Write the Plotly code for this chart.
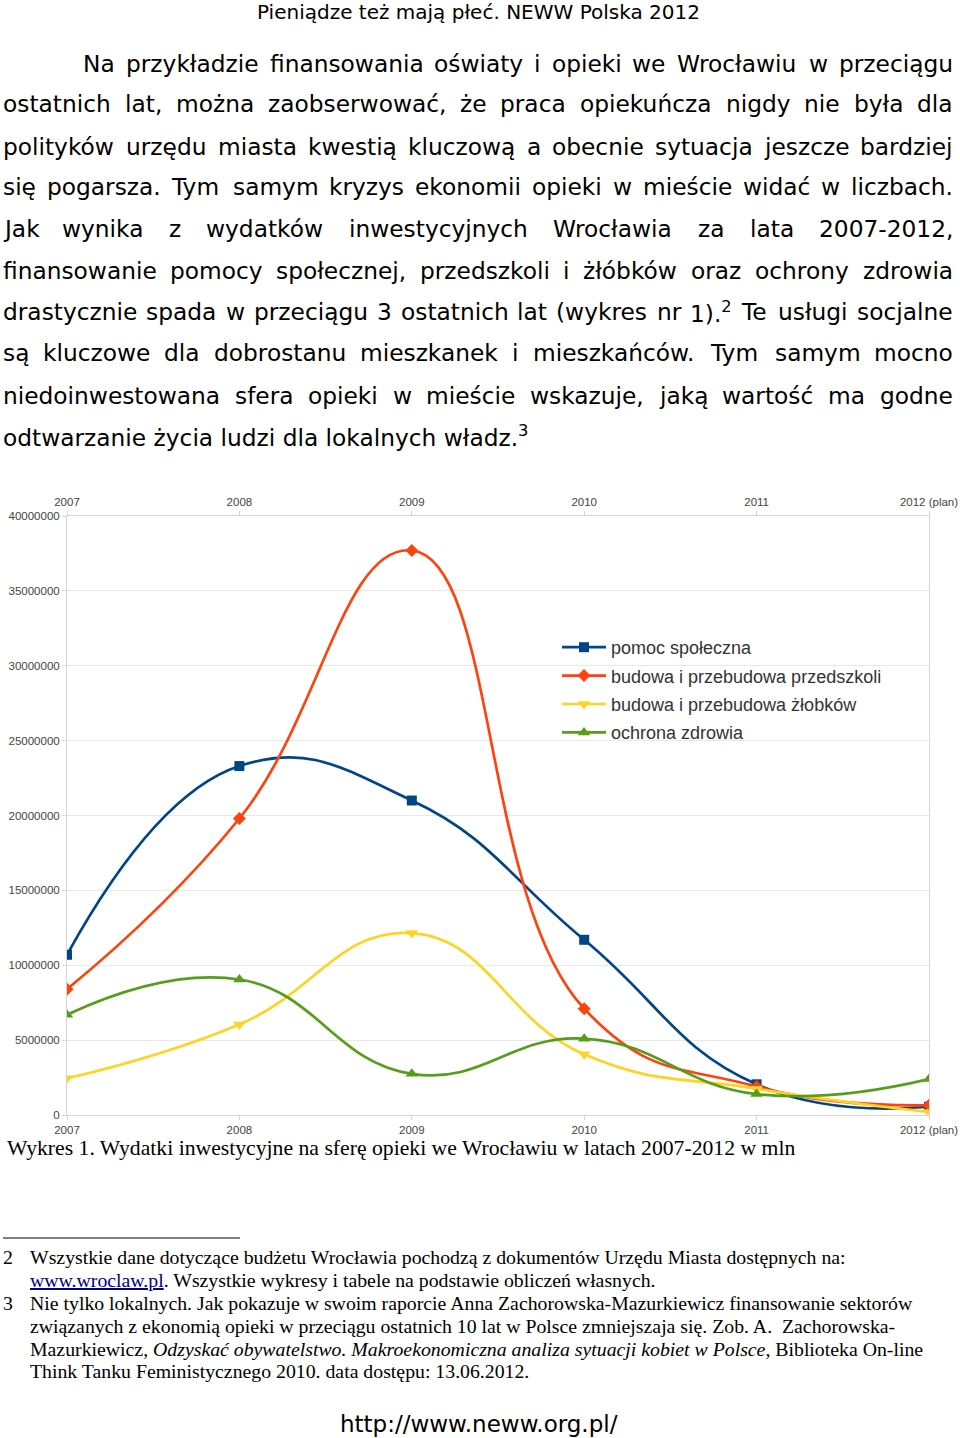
import plotly.graph_objects as go

# ---------------- data ----------------
years = ["2007", "2008", "2009", "2010", "2011", "2012 (plan)"]
pomoc_spoleczna = [10700000, 23300000, 21000000, 11700000, 2050000, 550000]
przedszkola = [8400000, 19800000, 37700000, 7100000, 1900000, 650000]
zlobki = [2450000, 6050000, 12150000, 4050000, 1750000, 200000]
ochrona_zdrowia = [6700000, 9050000, 2750000, 5100000, 1400000, 2400000]
series_names = ["pomoc społeczna", "budowa i przebudowa przedszkoli",
                "budowa i przebudowa żłobków", "ochrona zdrowia"]
y_ticks = [0, 5000000, 10000000, 15000000, 20000000, 25000000,
           30000000, 35000000, 40000000]

paragraph_lines = [
    "Na przykładzie finansowania oświaty i opieki we Wrocławiu w przeciągu",
    "ostatnich lat, można zaobserwować, że praca opiekuńcza nigdy nie była dla",
    "polityków urzędu miasta kwestią kluczową a obecnie sytuacja jeszcze bardziej",
    "się pogarsza. Tym samym kryzys ekonomii opieki w mieście widać w liczbach.",
    "Jak wynika z wydatków inwestycyjnych Wrocławia za lata 2007-2012,",
    "finansowanie pomocy społecznej, przedszkoli i żłóbków oraz ochrony zdrowia",
    "drastycznie spada w przeciągu 3 ostatnich lat (wykres nr 1).<sup>2</sup> Te usługi socjalne",
    "są kluczowe dla dobrostanu mieszkanek i mieszkańców. Tym samym mocno",
    "niedoinwestowana sfera opieki w mieście wskazuje, jaką wartość ma godne",
]
paragraph_last = "odtwarzanie życia ludzi dla lokalnych władz.<sup>3</sup>"

W, H = 960, 1438
def px(x):
    return x / W
def py(y):
    return 1 - y / H

colors = ["#004586", "#ff420e", "#ffd320", "#579d1c"]
symbols = ["square", "diamond", "triangle-down", "triangle-up"]
msizes = [10, 10, 11, 11]
values = [pomoc_spoleczna, przedszkola, zlobki, ochrona_zdrowia]

fig = go.Figure()
for name, vals, col, sym, ms in zip(series_names, values, colors, symbols, msizes):
    fig.add_trace(go.Scatter(
        x=years, y=vals, name=name, mode="lines+markers",
        legendgroup=name,
        line=dict(color=col, width=2.7, shape="spline", smoothing=1.3),
        marker=dict(symbol=sym, size=ms, color=col),
    ))
# helper trace so the top category axis gets its categories
fig.add_trace(go.Scatter(x=years, y=pomoc_spoleczna, xaxis="x2", mode="lines",
                         line=dict(width=0), opacity=0, showlegend=False,
                         hoverinfo="skip"))

tickfont = dict(family="Liberation Sans", size=11.5, color="#444")
axcol = "#d6d6d6"
xa = dict(type="category", range=[0, 5], showgrid=False, showline=True,
          linecolor=axcol, linewidth=1, ticks="outside", ticklen=4,
          tickcolor=axcol, tickfont=tickfont, zeroline=False, automargin=False)
fig.update_layout(
    width=W, height=H,
    margin=dict(l=0, r=0, t=0, b=0, pad=0, autoexpand=False),
    paper_bgcolor="white", plot_bgcolor="white",
    xaxis=dict(domain=[px(67), px(929)], **xa),
    xaxis2=dict(overlaying="x", side="top", anchor="y", **xa),
    yaxis=dict(domain=[py(1115), py(516)], range=[0, 40000000],
               tickvals=y_ticks, tickformat="d", showgrid=True,
               gridcolor="#e8e8e8", gridwidth=1, showline=True,
               linecolor=axcol, mirror=True, ticks="outside", ticklen=4,
               tickcolor=axcol, tickfont=tickfont, zeroline=False,
               automargin=False),
    legend=dict(x=px(557), y=py(629), xanchor="left", yanchor="top",
                font=dict(family="Liberation Sans", size=18, color="#333"),
                bgcolor="rgba(0,0,0,0)", tracegroupgap=2, itemwidth=44),
    showlegend=True,
)

ann = []
def add_text(text, x, y, size, family="DejaVu Sans", anchor="left", color="black"):
    ann.append(dict(text=text, x=px(x), y=py(y), xref="paper", yref="paper",
                    xanchor=anchor, yanchor="middle", showarrow=False,
                    borderpad=0, borderwidth=0,
                    font=dict(family=family, size=size, color=color)))

# approximate DejaVu Sans advance widths (em) for justification
DV = {" ": .318, "a": .613, "b": .635, "c": .550, "d": .635, "e": .615, "f": .352,
      "g": .635, "h": .634, "i": .278, "j": .278, "k": .579, "l": .278, "m": .974,
      "n": .634, "o": .612, "p": .635, "q": .635, "r": .411, "s": .521, "t": .392,
      "u": .634, "v": .592, "w": .818, "x": .592, "y": .592, "z": .525,
      "ą": .613, "ę": .615, "ł": .30, "ń": .634, "ó": .612, "ś": .521, "ć": .550,
      "ż": .525, "ź": .525, "J": .295, "N": .748, "T": .611, "W": .989, "P": .603,
      "E": .632, ".": .318, ",": .318, "(": .390, ")": .390, "-": .361, ":": .337,
      "/": .337}
for d in "0123456789":
    DV[d] = .636

def word_width(word, size):
    sup = 0.0
    if "<sup>" in word:
        base, rest = word.split("<sup>")
        supt = rest.replace("</sup>", "")
        sup = 0.7 * sum(DV.get(c, .6) for c in supt)
        word = base
    return (sum(DV.get(c, .6) for c in word) + sup) * size

BODY = 23.3
line_y = [63, 104, 146, 187, 229, 270, 312, 353, 395]
for i, (line, y) in enumerate(zip(paragraph_lines, line_y)):
    left = 83 if i == 0 else 3
    right = 953
    words = line.split(" ")
    widths = [word_width(w, BODY) for w in words]
    gap = (right - left - sum(widths)) / (len(words) - 1)
    x = left
    for j, (w, wd) in enumerate(zip(words, widths)):
        if j == len(words) - 1:
            add_text(w, right, y, BODY, anchor="right")
        else:
            add_text(w, x, y, BODY)
        x += wd + gap
add_text(paragraph_last, 3, 436, BODY)

# header
add_text("Pieniądze też mają płeć. NEWW Polska 2012", 478, 12, 20, anchor="center")

# caption
add_text("Wykres 1. Wydatki inwestycyjne na sferę opieki we Wrocławiu w latach 2007-2012 w mln",
         7, 1148, 21.7, family="Liberation Serif")

# footnotes
fs = 19.8
ser = "Liberation Serif"
add_text("2", 3, 1257, fs, family=ser)
add_text("Wszystkie dane dotyczące budżetu Wrocławia pochodzą z dokumentów Urzędu Miasta dostępnych na:",
         30, 1257, fs, family=ser)
add_text("<span style='color:#000080'><u>www.wroclaw.pl</u></span>. Wszystkie wykresy i tabele na podstawie obliczeń własnych.",
         30, 1280, fs, family=ser)
add_text("3", 3, 1303, fs, family=ser)
add_text("Nie tylko lokalnych. Jak pokazuje w swoim raporcie Anna Zachorowska-Mazurkiewicz finansowanie sektorów",
         30, 1303, fs, family=ser)
add_text("związanych z ekonomią opieki w przeciągu ostatnich 10 lat w Polsce zmniejszaja się. Zob. A.  Zachorowska-",
         30, 1326, fs, family=ser)
add_text("Mazurkiewicz, <i>Odzyskać obywatelstwo. Makroekonomiczna analiza sytuacji kobiet w Polsce</i>, Biblioteka On-line",
         30, 1349, fs, family=ser)
add_text("Think Tanku Feministycznego 2010. data dostępu: 13.06.2012.",
         30, 1371, fs, family=ser)

# footer
add_text("http://www.neww.org.pl/", 479, 1424, 23, anchor="center")

fig.update_layout(annotations=ann)
fig.add_shape(type="line", xref="paper", yref="paper", x0=px(3), x1=px(240),
              y0=py(1238), y1=py(1238), line=dict(color="black", width=1))

fig.write_html("out.html", config={"displayModeBar": False},
               post_script="document.body.style.margin='0px';document.body.style.padding='0px';")
